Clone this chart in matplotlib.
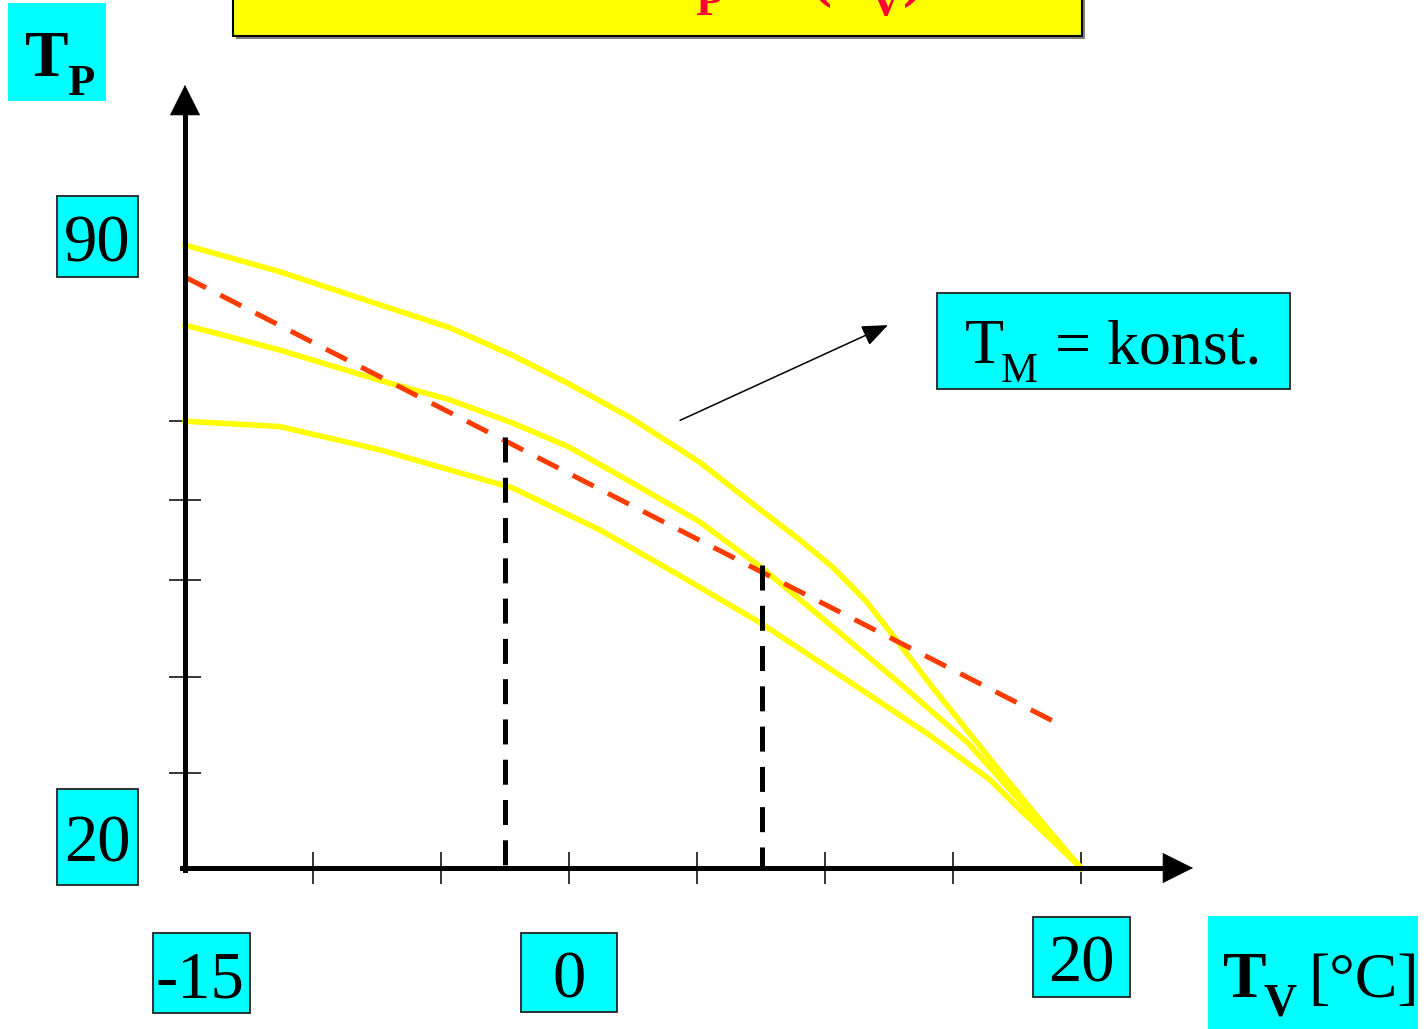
import matplotlib
matplotlib.use("Agg")
import matplotlib.pyplot as plt
from matplotlib.patches import Rectangle

plt.rcParams['font.family'] = ['Liberation Serif', 'DejaVu Serif']
plt.rcParams['lines.scale_dashes'] = False

W, H = 1424, 1029

# curves T_P(T_V)
tv_top = [-15, -11.3, -7.4, -4.65, -2.2, 0.0, 2.4, 5.1, 7.5, 9.0, 10.3, 11.6,
          12.5, 14.2, 16.8, 18.4, 20]
tp_top = [90.0, 87.0, 83.3, 80.7, 77.6, 74.4, 70.6, 65.6, 60.2, 56.9, 53.8,
          50.0, 46.7, 40.3, 31.0, 25.4, 20]

tv_mid = [-15, -11.3, -7.4, -4.65, -2.2, 0.0, 2.4, 5.1, 7.5, 10.3, 12.9,
          15.6, 17.6, 20]
tp_mid = [81.0, 78.2, 74.8, 72.6, 70.0, 67.3, 63.4, 58.9, 53.8, 47.1, 40.8,
          34.0, 27.6, 20]

tv_low = [-15, -11.3, -7.4, -2.2, 1.2, 4.3, 7.5, 11.6, 14.1, 16.45, 17.5, 20]
tp_low = [70.2, 69.6, 67.0, 62.7, 58.0, 52.9, 47.5, 39.7, 34.9, 29.9, 26.9, 20]

# T_M = konst. line
tv_tm = [-15, 18.98]
tp_tm = [86.4, 36.4]

# vertical markers
mark_tv = [-2.5, 7.54]
mark_tp = [68.4, 54.0]

x_ticks = [-10, -5, 0, 5, 10, 15, 20]
y_ticks = [30.7, 41.5, 52.4, 61.4, 70.2]

fig = plt.figure(figsize=(W / 100, H / 100), dpi=100)
ax = fig.add_axes([0, 0, 1, 1])
ax.set_xlim(-15 - 185 / 25.6, -15 + (W - 185) / 25.6)
ax.set_ylim(20 - (H - 868) / 8.9, 20 + 868 / 8.9)

for s in ax.spines.values():
    s.set_visible(False)
ax.spines['left'].set_position(('data', -15))
ax.spines['bottom'].set_position(('data', 20))
ax.set_xticks(x_ticks)
ax.set_yticks(y_ticks)
ax.set_xticklabels([])
ax.set_yticklabels([])
ax.tick_params(direction='inout', length=23.5, width=1.1, color='black',
               top=False, right=False)

yellow = '#ffff00'
for xs, ys in [(tv_top, tp_top), (tv_mid, tp_mid), (tv_low, tp_low)]:
    ax.plot(xs, ys, color=yellow, lw=4.0, solid_joinstyle='round', zorder=3)
ax.plot(tv_tm, tp_tm, color='#ff3c00', lw=3.6, dashes=(17, 11.5), zorder=4)
for x, y in zip(mark_tv, mark_tp):
    ax.plot([x, x], [y, 20], color='black', lw=3.6, dashes=(18, 11), zorder=4)

# axes with arrowheads
ax.plot([-15, -15], [19.72, 104.6], color='black', lw=3.6, zorder=5)
ax.plot([-15.1, 23.2], [20, 20], color='black', lw=3.6, zorder=5)
ax.annotate('', xy=(-15, 107.98), xytext=(-15, 103), zorder=5,
            arrowprops=dict(arrowstyle='-|>,head_length=21,head_width=10.5',
                            mutation_scale=1, lw=0.5, color='black',
                            shrinkA=0, shrinkB=0))
ax.annotate('', xy=(24.375, 20), xytext=(22.5, 20), zorder=5,
            arrowprops=dict(arrowstyle='-|>,head_length=21,head_width=10.5',
                            mutation_scale=1, lw=0.5, color='black',
                            shrinkA=0, shrinkB=0))

# pointer to the T_M box
ax.annotate('', xy=(12.46, 81.0), xytext=(4.34, 70.3),
            arrowprops=dict(arrowstyle='-|>,head_length=16,head_width=6.5',
                            mutation_scale=1, lw=1.1, color='black',
                            shrinkA=0, shrinkB=0))


def fx(px):
    return px / W


def fy(py):
    return 1 - py / H


def box(x0, y0, x1, y1, fc, ec='none', lw=1.3):
    fig.add_artist(Rectangle((fx(x0), fy(y1)), (x1 - x0) / W, (y1 - y0) / H,
                             transform=fig.transFigure, fc=fc, ec=ec, lw=lw))


def txt(x, y, s, size, ha='left', weight='normal', color='black'):
    fig.text(fx(x), fy(y), s, fontsize=size, ha=ha, va='baseline',
             fontweight=weight, color=color)


cyan = '#00ffff'

# title box (cut off at top)
box(236, -10, 1085, 39, '#808080')
box(233, -10, 1082, 36, yellow, ec='black', lw=1.5)
red = '#ff0033'
txt(693, -6, 'T', 47, ha='right', weight='bold', color=red)
txt(695, 15, 'P', 32, weight='bold', color=red)
txt(832, -6, '= f(', 47, ha='right', weight='bold', color=red)
txt(832, -6, 'T', 47, weight='bold', color=red)
txt(870, 15, 'V', 32, weight='bold', color=red)
txt(903, -6, ')', 47, weight='bold', color=red)

# T_P label
box(8, 3, 106, 101, cyan)
txt(25, 76, 'T', 47, weight='bold')
txt(67, 95, 'P', 32, weight='bold')

# T_V label
box(1208, 916, 1418, 1035, cyan)
txt(1223, 997, 'T', 47, weight='bold')
txt(1263, 1015, 'V', 33, weight='bold')
txt(1308, 997, '[°C]', 46)

# T_M = konst.
box(937, 293, 1290, 389, cyan, ec='#222222')
txt(965, 363, 'T', 46)
txt(1001, 382, 'M', 30)
txt(1055, 363, '= konst.', 46)

# value boxes
box(57, 196, 138, 277, cyan, ec='#222222')
txt(97.5, 262, '90', 48, ha='center')
box(57, 789, 138, 885, cyan, ec='#222222')
txt(97.5, 862, '20', 48, ha='center')
box(153, 933, 250, 1013, cyan, ec='#222222')
txt(200, 997, '-15', 48, ha='center')
box(521, 933, 617, 1012, cyan, ec='#222222')
txt(569, 997, '0', 48, ha='center')
box(1033, 917, 1130, 997, cyan, ec='#222222')
txt(1081, 981, '20', 48, ha='center')

fig.savefig('out.png', dpi=100)
